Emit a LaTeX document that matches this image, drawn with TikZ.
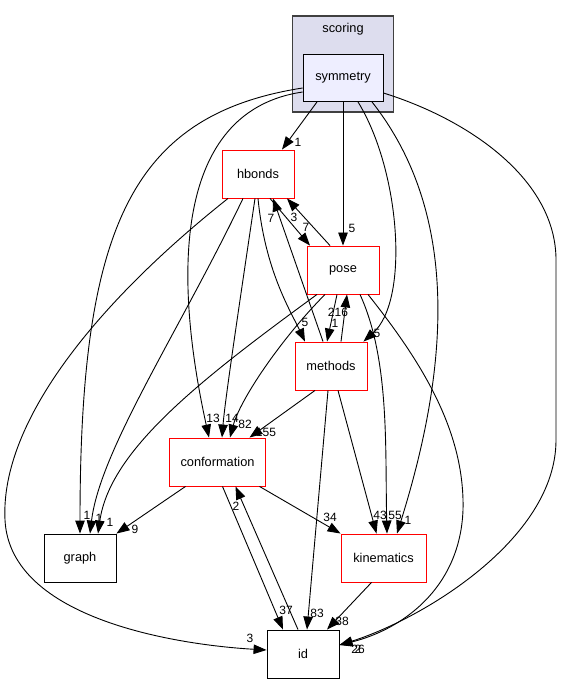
\documentclass[tikz,border=0pt]{standalone}
\usepackage{fontspec}
\setmainfont{Liberation Sans}
\usetikzlibrary{arrows.meta}
\definecolor{clusterfill}{RGB}{221,221,238}
\definecolor{symfill}{RGB}{238,238,255}
\begin{document}
\begin{tikzpicture}[x=1pt,y=-1pt,
  dir/.style={rectangle,draw=black,line width=0.9pt,fill=white,minimum width=72pt,minimum height=48pt,inner sep=0pt,font=\fontsize{12.8}{14}\selectfont},
  reddir/.style={dir,draw=red},
  dep/.style={line width=0.9pt,-{Triangle[length=13pt,width=9.5pt]}},
  num/.style={inner sep=0pt,font=\fontsize{12}{13}\selectfont}]
  \useasboundingbox (0,0) rectangle (562,684);
  \node[dir,draw=black!75,line width=1.2pt,fill=clusterfill,minimum width=101pt,minimum height=96pt] (scoring) at (343,64) {};
  \node[inner sep=0pt,font=\fontsize{12.8}{14}\selectfont] (scoringname) at (343,29) {scoring};
  \node[dir,fill=symfill,minimum width=80pt,minimum height=47pt] (symmetry) at (343,78) {symmetry};
  \node[reddir] (hbonds) at (258,174) {hbonds};
  \node[reddir] (pose) at (343,270) {pose};
  \node[reddir] (methods) at (331,366) {methods};
  \node[reddir,minimum width=96pt] (conformation) at (217.5,462) {conformation};
  \node[dir] (graph) at (80,558) {graph};
  \node[reddir,minimum width=85pt] (kinematics) at (383.5,558) {kinematics};
  \node[dir] (id) at (303,654) {id};
  \draw[dep] ([xshift=-26pt]symmetry.south) -- ([xshift=24pt]hbonds.north) node[num] at (298,142) {1};
  \draw[dep] (symmetry.south) -- (pose.north) node[num] at (352,228) {5};
  \draw[dep] ([yshift=-10pt]symmetry.west) .. controls (130,115) and (80,230) .. (graph.north) node[num] at (87,515) {1};
  \draw[dep] ([yshift=-14pt]symmetry.west) .. controls (180,110) and (170,260) .. ([xshift=-8.5pt]conformation.north) node[num] at (213,418) {13};
  \draw[dep] ([xshift=15pt]symmetry.south) .. controls (400,170) and (410,300) .. ([xshift=-4pt]methods.north east) node[num] at (377,333) {5};
  \draw[dep] ([xshift=29pt]symmetry.south) .. controls (465,220) and (445,380) .. ([xshift=13.5pt]kinematics.north) node[num] at (408,520) {1};
  \draw[dep] ([yshift=-15pt]symmetry.east) .. controls (470,120) and (556,180) .. (556,260) -- (556,440) .. controls (556,540) and (420,620) .. ([yshift=9pt]id.east) node[num] at (358,649) {26};
  \draw[dep] ([xshift=-30pt]hbonds.south) .. controls (100,300) and (0,420) .. (5,520) .. controls (10,620) and (180,645) .. ([yshift=4pt]id.west) node[num] at (250,638) {3};
  \draw[dep] ([xshift=-15pt]hbonds.south) .. controls (180,330) and (100,450) .. ([xshift=10pt]graph.north) node[num] at (99,518) {1};
  \draw[dep] ([xshift=-3pt]hbonds.south) .. controls (240,300) and (225,400) .. ([xshift=4.5pt]conformation.north) node[num] at (232,418) {14};
  \draw[dep] (hbonds.south) .. controls (265,270) and (290,310) .. ([xshift=-26pt]methods.north) node[num] at (305,322) {5};
  \draw[dep] ([xshift=-8pt]methods.north) -- ([xshift=15pt]hbonds.south) node[num] at (271,218) {7};
  \draw[dep] ([xshift=-13pt]pose.north) -- ([xshift=29pt]hbonds.south) node[num] at (294,217) {3};
  \draw[dep] ([xshift=12pt]hbonds.south) -- ([xshift=-33pt]pose.north) node[num] at (306,227) {7};
  \draw[dep] ([xshift=-6pt]pose.south) -- ([xshift=-4pt]methods.north) node[num] at (335,323) {1};
  \draw[dep] ([xshift=10pt]methods.north) -- ([xshift=4pt]pose.south) node[num] at (338,312) {216};
  \draw[dep] ([xshift=-26pt]pose.south) .. controls (200,380) and (110,450) .. ([xshift=18pt]graph.north) node[num] at (110,522) {1};
  \draw[dep] ([xshift=-18pt]pose.south) .. controls (280,340) and (240,400) .. ([xshift=12.5pt]conformation.north) node[num] at (245,424) {82};
  \draw[dep] ([xshift=17pt]pose.south) .. controls (390,360) and (385,450) .. ([xshift=3.5pt]kinematics.north) node[num] at (395,515) {55};
  \draw[dep] ([xshift=25pt]pose.south) .. controls (420,360) and (465,430) .. (463,510) .. controls (460,590) and (400,630) .. ([yshift=9pt]id.east) node[num] at (358,649) {2};
  \draw[dep] ([xshift=-16pt]methods.south) -- ([xshift=32pt]conformation.north) node[num] at (266,432) {155};
  \draw[dep] ([xshift=7pt]methods.south) -- ([xshift=-7pt]kinematics.north) node[num] at (380,515) {43};
  \draw[dep] ([xshift=-3pt]methods.south) -- ([xshift=4pt]id.north) node[num] at (317,613) {83};
  \draw[dep] ([xshift=-32pt]conformation.south) -- (graph.north east) node[num] at (135,529) {9};
  \draw[dep] ([xshift=42pt]conformation.south) -- (kinematics.north west) node[num] at (330,517) {34};
  \draw[dep] ([xshift=5pt]conformation.south) -- ([xshift=-20pt]id.north) node[num] at (286,610) {37};
  \draw[dep] ([xshift=-5pt]id.north) -- ([xshift=18pt]conformation.south) node[num] at (236,506) {2};
  \draw[dep] ([xshift=-12pt]kinematics.south) -- ([xshift=24pt]id.north) node[num] at (342,621) {38};
\end{tikzpicture}
\end{document}
